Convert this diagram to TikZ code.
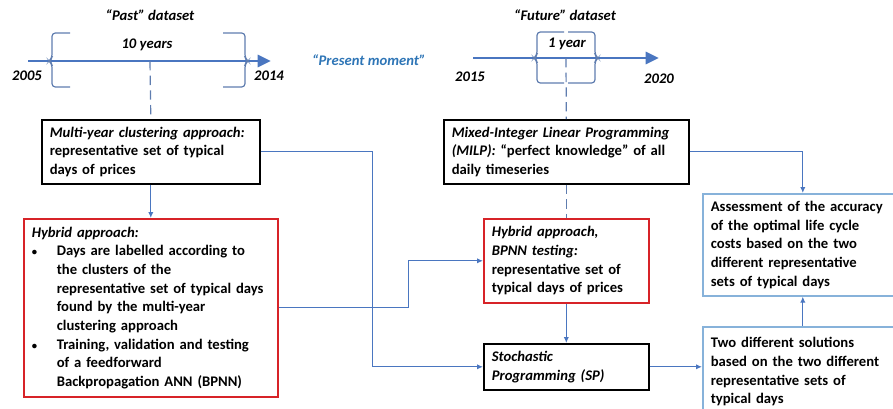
\documentclass[tikz,border=0pt]{standalone}
\usepackage{fontspec}
\setmainfont{Carlito}
\usetikzlibrary{arrows.meta}
\newdimen\px
\px=0.75pt
\definecolor{lineblue}{RGB}{74,118,192}
\definecolor{textblue}{RGB}{46,117,182}
\definecolor{bracketgray}{RGB}{95,125,175}
\definecolor{boxred}{RGB}{215,35,40}
\definecolor{boxlight}{RGB}{135,178,218}
\newcommand{\bulletmark}{\makebox[25\px][l]{\fontsize{8}{8}\selectfont •}}
\newcommand{\bulletpad}{\hspace*{25\px}}

\begin{document}
\begin{tikzpicture}[x=0.75pt,y=-0.75pt,
  font=\fontsize{11}{14}\selectfont\bfseries,
  box/.style={draw=black,line width=1.2pt,anchor=north west,align=left,inner xsep=8\px,inner ysep=5\px},
  redbox/.style={box,draw=boxred},
  lightbox/.style={box,draw=boxlight},
  tag/.style={inner sep=0pt,font=\fontsize{11}{14}\selectfont\bfseries\itshape},
  flow/.style={draw=lineblue,line width=1pt,-{Latex[length=4.5pt,width=4pt]}},
  timeline/.style={draw=lineblue,line width=2.2pt,-{Triangle[length=10pt,width=9pt]}},
  brk/.style={draw=bracketgray,line width=0.9pt,rounded corners=2.5pt},
  guide/.style={draw=bracketgray,line width=0.9pt,dash pattern=on 7pt off 4pt}]

\useasboundingbox (0,0) rectangle (893,408);
\clip (0,0) rectangle (893,408);

\coordinate (past-start) at (28,61);
\coordinate (past-end) at (271,61);
\coordinate (past-mid) at (150,61);
\coordinate (fut-start) at (473,58);
\coordinate (fut-end) at (659,58);
\coordinate (fut-mid) at (566,58);

\draw[timeline] (past-start) -- (past-end);
\draw[timeline] (fut-start) -- (fut-end);

\draw[brk] (70,33) -- (52,33) -- (52,58) -- (49,61) -- (52,64) -- (52,87) -- (70,87);
\draw[brk] (223,33) -- (245,33) -- (245,58) -- (248,61) -- (245,64) -- (245,87) -- (223,87);
\draw[brk] (564,32) -- (537,32) -- (537,55) -- (534,58) -- (537,61) -- (537,83) -- (564,83);
\draw[brk] (568,32) -- (595,32) -- (595,55) -- (598,58) -- (595,61) -- (595,83) -- (568,83);

\node[tag] (past-title) at (150,15) {“Past” dataset};
\node[tag] (past-span) at (147,45) {10 years};
\node[tag] (year-2005) at (27,76) {2005};
\node[tag] (year-2014) at (269,76) {2014};
\node[tag,text=textblue] (present) at (369,60) {“Present moment”};
\node[tag] (fut-title) at (565,15) {“Future” dataset};
\node[tag] (fut-span) at (567,44) {1 year};
\node[tag] (year-2015) at (470,77) {2015};
\node[tag] (year-2020) at (659,79) {2020};

\node[box,text width=202\px,minimum height=64\px] (multi) at (41,119)
  {\textit{Multi-year clustering approach:}\\
   representative set of typical\\
   days of prices};
\node[redbox,text width=238\px,minimum height=178\px] (hybrid) at (23,218)
  {\textit{Hybrid approach:}\\
   \bulletmark Days are labelled according to\\
   \bulletpad the clusters of the\\
   \bulletpad representative set of typical days\\
   \bulletpad found by the multi-year\\
   \bulletpad clustering approach\\
   \bulletmark Training, validation and testing\\
   \bulletpad of a feedforward\\
   \bulletpad Backpropagation ANN (BPNN)};
\node[box,text width=229\px,minimum height=64\px] (milp) at (443,119)
  {\textit{Mixed-Integer Linear Programming}\\
   \textit{(MILP):} “perfect knowledge” of all\\
   daily timeseries};
\node[redbox,text width=149\px,minimum height=84\px] (bpnn) at (483,218)
  {\textit{Hybrid approach,}\\
   \textit{BPNN testing:}\\
   representative set of\\
   typical days of prices};
\node[box,text width=149\px,minimum height=46\px] (stoch) at (483,343)
  {\textit{Stochastic}\\
   \textit{Programming (SP)}};
\node[lightbox,text width=184\px,minimum height=102\px] (assess) at (702,193)
  {Assessment of the accuracy\\
   of the optimal life cycle\\
   costs based on the two\\
   different representative\\
   sets of typical days};
\node[lightbox,text width=184\px,minimum height=90\px] (two) at (702,326)
  {Two different solutions\\
   based on the two different\\
   representative sets of\\
   typical days};

\draw[guide] (past-mid) -- (multi.north);
\draw[guide] (fut-mid) -- (milp.north);
\draw[guide] (milp.south) -- (bpnn.north);

\draw[flow] (multi.south) -- (hybrid.north);
\draw[flow] (multi.east) -- ++(112,0) |- (stoch.west);
\draw[flow] (hybrid.east) -- ++(130,0) |- (bpnn.west);
\draw[flow] (bpnn.south) -- (stoch.north);
\draw[flow] (stoch.east) -- (stoch.east -| two.west);
\draw[flow] (two.north) -- (assess.south);
\draw[flow] (milp.east) -| (assess.north);

\end{tikzpicture}
\end{document}
